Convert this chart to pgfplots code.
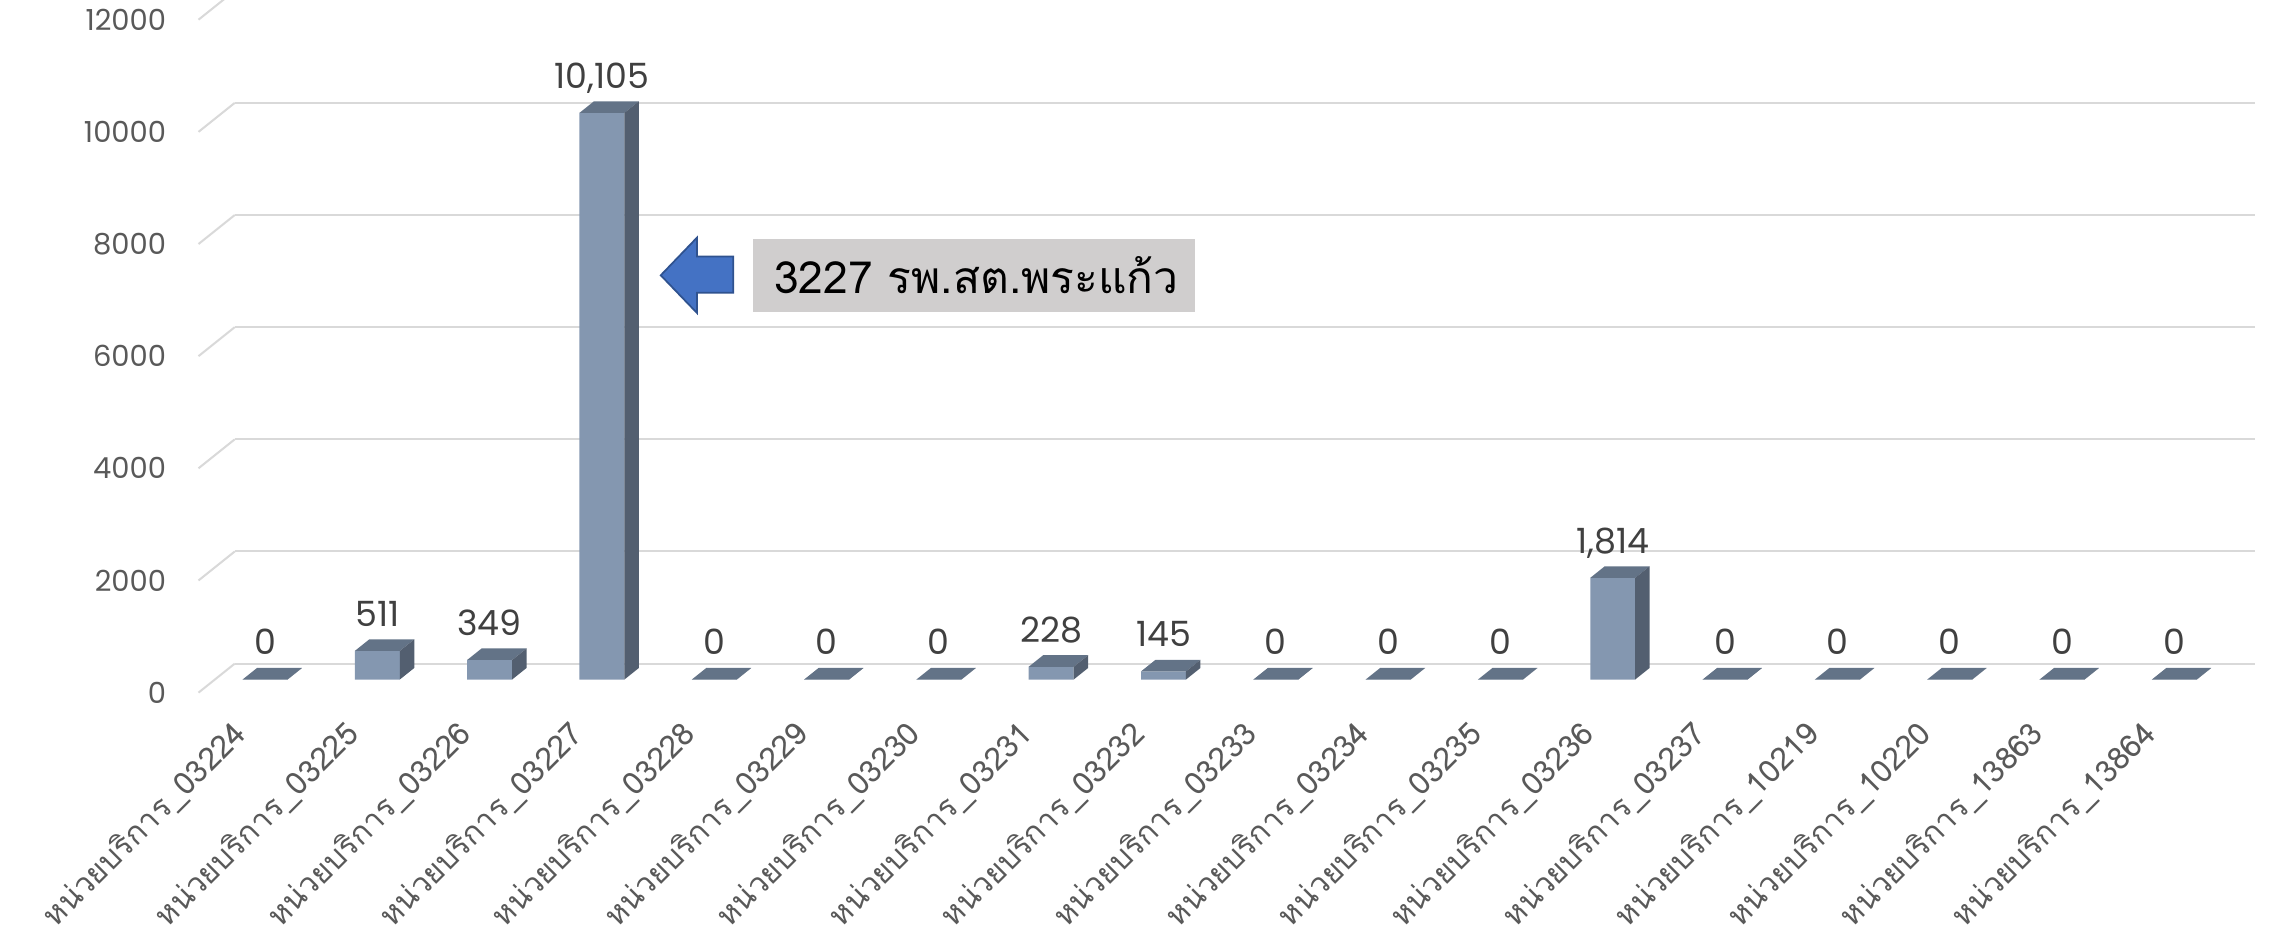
\documentclass[border=0pt]{standalone}
\usepackage{fontspec}
\usepackage{pgfplots}
\usepackage{pgfplotstable}
\pgfplotsset{compat=1.18}
\newfontfamily\thaifont[Script=Thai]{Loma}
\newfontfamily\numfont{Poppins}
\definecolor{barfront}{HTML}{8497B0}
\definecolor{bartop}{HTML}{637387}
\definecolor{barside}{HTML}{535F70}
\definecolor{gridc}{HTML}{D9D9D9}
\definecolor{ticktxt}{HTML}{595959}
\definecolor{lbltxt}{HTML}{404040}
\definecolor{arrowfill}{HTML}{4472C4}
\definecolor{arrowline}{HTML}{2F528F}
\definecolor{boxgray}{HTML}{D0CECE}

\pgfplotstableread{
idx val
0 0
1 511
2 349
3 10105
4 0
5 0
6 0
7 228
8 145
9 0
10 0
11 0
12 1814
13 0
14 0
15 0
16 0
17 0
}\units

% top and side faces of a 3D bar, drawn at the bar's front top
\pgfdeclareplotmark{box3d}{%
  \pgfmathsetmacro{\hh}{232.2*(\val/12000)}%
  \pgfpathmoveto{\pgfpoint{-7.75pt}{0pt}}%
  \pgfpathlineto{\pgfpoint{7.75pt}{0pt}}%
  \pgfpathlineto{\pgfpoint{12.75pt}{4pt}}%
  \pgfpathlineto{\pgfpoint{-2.75pt}{4pt}}%
  \pgfpathclose
  \pgfsetfillcolor{bartop}\pgfusepath{fill}%
  \pgfpathmoveto{\pgfpoint{7.75pt}{0pt}}%
  \pgfpathlineto{\pgfpoint{12.75pt}{4pt}}%
  \pgfpathlineto{\pgfpoint{12.75pt}{4pt-\hh pt}}%
  \pgfpathlineto{\pgfpoint{7.75pt}{-\hh pt}}%
  \pgfpathclose
  \pgfsetfillcolor{barside}\pgfusepath{fill}%
}

\begin{document}
\begin{tikzpicture}
\clip (0,0) rectangle (784pt,323.5pt);
\begin{axis}[
  at={(74pt,89pt)}, anchor=south west,
  scale only axis, width=697pt, height=232.2pt,
  xmin=-0.45, xmax=17.535, ymin=0, ymax=12000,
  clip=false,
  axis line style={draw=none},
  major tick length=0pt,
  ymajorgrids,
  major grid style={gridc, line width=0.7pt, shift={(7pt,5.5pt)}},
  ytick={0,2000,4000,6000,8000,10000,12000},
  yticklabels={0,2000,4000,6000,8000,10000,12000},
  yticklabel style={font=\numfont\fontsize{10}{12}\selectfont, color=ticktxt,
    anchor=east, inner sep=0pt, xshift=-16.5pt, yshift=-4.5pt},
  xtick={0,...,17},
  xticklabels={หน่วยบริการ\_03224,หน่วยบริการ\_03225,หน่วยบริการ\_03226,
    หน่วยบริการ\_03227,หน่วยบริการ\_03228,หน่วยบริการ\_03229,
    หน่วยบริการ\_03230,หน่วยบริการ\_03231,หน่วยบริการ\_03232,
    หน่วยบริการ\_03233,หน่วยบริการ\_03234,หน่วยบริการ\_03235,
    หน่วยบริการ\_03236,หน่วยบริการ\_03237,หน่วยบริการ\_10219,
    หน่วยบริการ\_10220,หน่วยบริการ\_13863,หน่วยบริการ\_13864},
  xticklabel style={font=\thaifont\fontsize{10.8}{13}\selectfont, color=ticktxt,
    inner sep=0pt, xshift=-8pt, yshift=-17pt, rotate=45, anchor=east},
  /pgf/number format/assume math mode=true,
]
\pgfplotsinvokeforeach{0,2000,4000,6000,8000,10000,12000}{
  \draw[gridc, line width=0.7pt]
    ([shift={(-5.5pt,-4.5pt)}]axis cs:-0.45,#1) -- ([shift={(7pt,5.5pt)}]axis cs:-0.45,#1);
}
\addplot[ybar, bar width=15.5pt, fill=barfront, draw=none,
  nodes near coords,
  nodes near coords style={font=\numfont\fontsize{12}{14}\selectfont, color=lbltxt,
    anchor=base, inner sep=0pt, yshift=8.5pt}]
  table[x=idx, y=val] {\units};
\addplot[only marks, mark=box3d,
  visualization depends on={rawy \as \val}]
  table[x=idx, y=val] {\units};
\end{axis}
% callout
\fill[arrowfill, draw=arrowline, line width=0.6pt]
  (228pt,228.5pt) -- (240.5pt,241.5pt) -- (240.5pt,235pt) -- (253pt,235pt)
  -- (253pt,222.5pt) -- (240.5pt,222.5pt) -- (240.5pt,215.5pt) -- cycle;
\fill[boxgray] (260pt,216pt) rectangle (412.5pt,241pt);
\node[anchor=west, inner sep=0pt, font=\thaifont\fontsize{15.3}{18}\selectfont]
  at (267pt,228.5pt) {3227 รพ.สต.พระแก้ว};
\end{tikzpicture}
\end{document}
